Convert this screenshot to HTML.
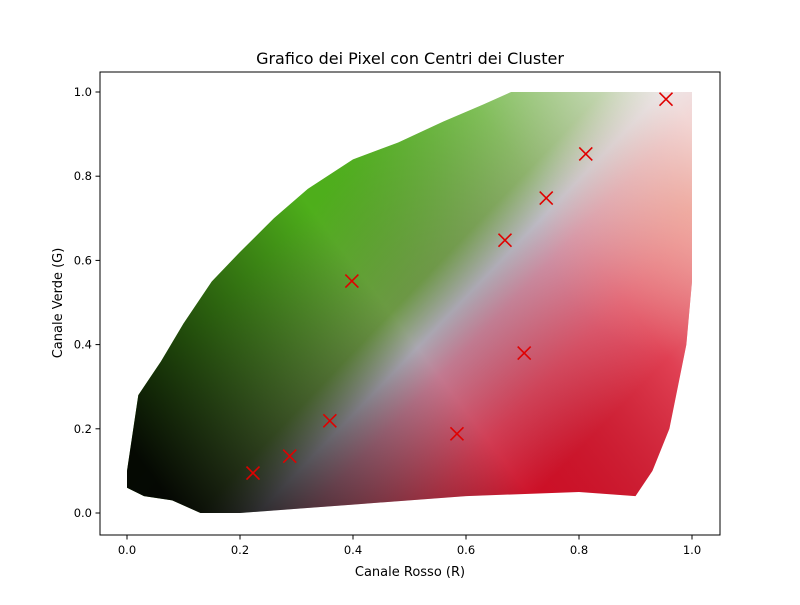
<!DOCTYPE html>
<html><head><meta charset="utf-8"><style>
body{margin:0;background:#fff;}
svg text{font-family:"DejaVu Sans","Liberation Sans",sans-serif;}
</style></head><body>
<svg id="chart" width="800" height="600" xmlns="http://www.w3.org/2000/svg">
<defs>
<linearGradient id="hue" gradientUnits="userSpaceOnUse" x1="300" y1="220" x2="560" y2="470">
<stop offset="0" stop-color="#52b81c"/>
<stop offset="0.36" stop-color="#72a048"/>
<stop offset="0.48" stop-color="#b4b0bc"/>
<stop offset="0.58" stop-color="#cc8098"/>
<stop offset="0.8" stop-color="#dc4058"/>
<stop offset="1" stop-color="#d81028"/>
</linearGradient>
<linearGradient id="light" gradientUnits="userSpaceOnUse" x1="170" y1="500" x2="680" y2="110">
<stop offset="0" stop-color="#000" stop-opacity="0.95"/>
<stop offset="0.22" stop-color="#000" stop-opacity="0.5"/>
<stop offset="0.45" stop-color="#000" stop-opacity="0.05"/>
<stop offset="0.75" stop-color="#fff" stop-opacity="0.2"/>
<stop offset="1" stop-color="#fff" stop-opacity="0.75"/>
</linearGradient>
<radialGradient id="warm" gradientUnits="userSpaceOnUse" cx="690" cy="210" r="150">
<stop offset="0" stop-color="#f0a070" stop-opacity="0.35"/>
<stop offset="1" stop-color="#f0a070" stop-opacity="0"/>
</radialGradient>
<clipPath id="cloud"><path id="cloudPath"/></clipPath>
</defs>
<rect x="0" y="0" width="800" height="600" fill="#fff"/>
<g clip-path="url(#cloud)">
<rect x="100" y="72" width="620" height="463" fill="url(#hue)"/>
<rect x="100" y="72" width="620" height="463" fill="url(#light)"/>
<rect x="100" y="72" width="620" height="463" fill="url(#warm)"/>
</g>
<g id="markers"></g>
<rect x="100" y="72" width="620" height="463" fill="none" stroke="#000" stroke-width="1"/>
<g id="axes"></g>
<text x="410" y="64" text-anchor="middle" font-size="16">Grafico dei Pixel con Centri dei Cluster</text>
<text x="410" y="576" text-anchor="middle" font-size="13">Canale Rosso (R)</text>
<text x="62" y="303" text-anchor="middle" font-size="13" transform="rotate(-90 62 303)">Canale Verde (G)</text>
</svg>
<script>
const centersR=[0.223,0.288,0.359,0.398,0.584,0.669,0.703,0.742,0.812,0.954];
const centersG=[0.095,0.135,0.219,0.551,0.188,0.648,0.38,0.748,0.853,0.983];
const cloudR=[0.0,0.02,0.06,0.1,0.15,0.2,0.26,0.32,0.4,0.48,0.56,0.63,0.68,1.0,1.0,0.99,0.96,0.93,0.9,0.8,0.6,0.4,0.2,0.13,0.08,0.03,0.0];
const cloudG=[0.1,0.28,0.36,0.45,0.55,0.62,0.7,0.77,0.84,0.88,0.93,0.97,1.0,1.0,0.55,0.4,0.2,0.1,0.04,0.05,0.04,0.02,0.0,0.0,0.03,0.04,0.06];
const xTicks=[0.0,0.2,0.4,0.6,0.8,1.0];
const yTicks=[0.0,0.2,0.4,0.6,0.8,1.0];
const xs=v=>127+v*565, ys=v=>513-v*421;
const NS="http://www.w3.org/2000/svg";
document.getElementById('cloudPath').setAttribute('d',cloudR.map((r,i)=>(i?'L':'M')+xs(r)+' '+ys(cloudG[i])).join('')+'Z');
const m=document.getElementById('markers');
centersR.forEach((r,i)=>{
 const cx=xs(r),cy=ys(centersG[i]),s=6.5;
 const p=document.createElementNS(NS,'path');
 p.setAttribute('d',`M${cx-s} ${cy-s}L${cx+s} ${cy+s}M${cx-s} ${cy+s}L${cx+s} ${cy-s}`);
 p.setAttribute('stroke','#e00000');p.setAttribute('stroke-width','1.6');
 
 
 m.appendChild(p);
});
const a=document.getElementById('axes');
xTicks.forEach(t=>{
 const x=xs(t);
 const l=document.createElementNS(NS,'line');
 l.setAttribute('x1',x);l.setAttribute('x2',x);l.setAttribute('y1',535);l.setAttribute('y2',539.5);l.setAttribute('stroke','#000');
 
 
 a.appendChild(l);
 const tx=document.createElementNS(NS,'text');
 tx.setAttribute('x',x);tx.setAttribute('y',554);tx.setAttribute('text-anchor','middle');tx.setAttribute('font-size','11.5');
 tx.textContent=t.toFixed(1);
 
 
 a.appendChild(tx);
});
yTicks.forEach(t=>{
 const y=ys(t);
 const l=document.createElementNS(NS,'line');
 l.setAttribute('x1',95.5);l.setAttribute('x2',100);l.setAttribute('y1',y);l.setAttribute('y2',y);l.setAttribute('stroke','#000');
 
 
 a.appendChild(l);
 const tx=document.createElementNS(NS,'text');
 tx.setAttribute('x',92);tx.setAttribute('y',y+4);tx.setAttribute('text-anchor','end');tx.setAttribute('font-size','11.5');
 tx.textContent=t.toFixed(1);
 
 
 a.appendChild(tx);
});
</script>
</body></html>
